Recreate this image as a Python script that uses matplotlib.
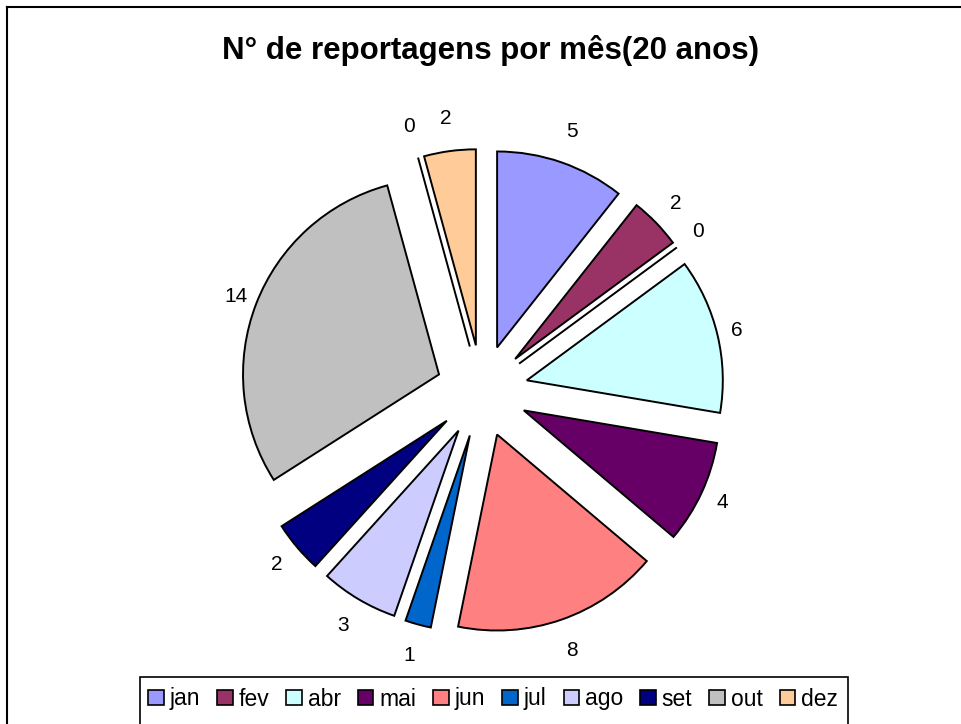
import matplotlib
matplotlib.use("Agg")
import numpy as np
import matplotlib.pyplot as plt
from matplotlib.patches import Rectangle, Patch
from matplotlib.lines import Line2D

plt.rcParams['font.family'] = ['Liberation Sans', 'DejaVu Sans']

months = ['jan', 'fev', 'mar', 'abr', 'mai', 'jun', 'jul', 'ago', 'set', 'out', 'nov', 'dez']
counts = [5, 2, 0, 6, 4, 8, 1, 3, 2, 14, 0, 2]
colors = ['#9999FF', '#993366', '#FFFFCC', '#CCFFFF', '#660066', '#FF8080',
          '#0066CC', '#CCCCFF', '#000080', '#C0C0C0', '#FFFF00', '#FFCC99']
title = 'N° de reportagens por mês(20 anos)'

W, H = 961, 724
fig = plt.figure(figsize=(W / 100, H / 100), dpi=100)

# pie centre (482, 391) px, radius 196 px
cx, cy, r, half = 482, 391, 196, 300
ax = fig.add_axes([(cx - half) / W, (H - cy - half) / H, 2 * half / W, 2 * half / H])
wedges, texts = ax.pie(counts, colors=colors, labels=[str(v) for v in counts],
                       startangle=90, counterclock=False,
                       explode=[0.235] * len(counts), labeldistance=1.15,
                       wedgeprops=dict(edgecolor='black', linewidth=1.4),
                       textprops=dict(fontsize=15, ha='center', va='center'))
lim = half / r
ax.set_xlim(-lim, lim)
ax.set_ylim(-lim, lim)
ax.set_aspect('equal')

# labels sit closer to the slice at the sides than at top/bottom
for w, t in zip(wedges, texts):
    th = np.deg2rad((w.theta1 + w.theta2) / 2)
    d = 1.08 + 0.09 * abs(np.sin(th))
    t.set_position((w.center[0] + d * np.cos(th), w.center[1] + d * np.sin(th)))
    t.set_horizontalalignment('center')
    t.set_verticalalignment('center')

fig.text(491 / W, 1 - 59 / H, title, ha='center', va='baseline',
         fontsize=22.5, fontweight='bold')

# chart frame (left and top edges visible)
fig.add_artist(Line2D([7 / W, 7 / W], [0, 1 - 7 / H], color='black', lw=1.5))
fig.add_artist(Line2D([7 / W, 1], [1 - 7 / H, 1 - 7 / H], color='black', lw=1.5))

# legend, only months with reports
handles = [Patch(facecolor=c, edgecolor='black', linewidth=1.2, label=m)
           for m, c, v in zip(months, colors, counts) if v > 0]
leg = fig.legend(handles=handles, loc='center', bbox_to_anchor=(493 / W, 1 - 699 / H),
                 ncol=len(handles), frameon=False, fontsize=16.5,
                 handlelength=0.68, handleheight=0.68, handletextpad=0.25,
                 columnspacing=0.75)
fig.add_artist(Rectangle((140 / W, -0.05), (848 - 140) / W, 0.05 + 1 - 677 / H,
                         transform=fig.transFigure, fill=False,
                         edgecolor='black', lw=1.2))

fig.savefig('out.png', dpi=100)
